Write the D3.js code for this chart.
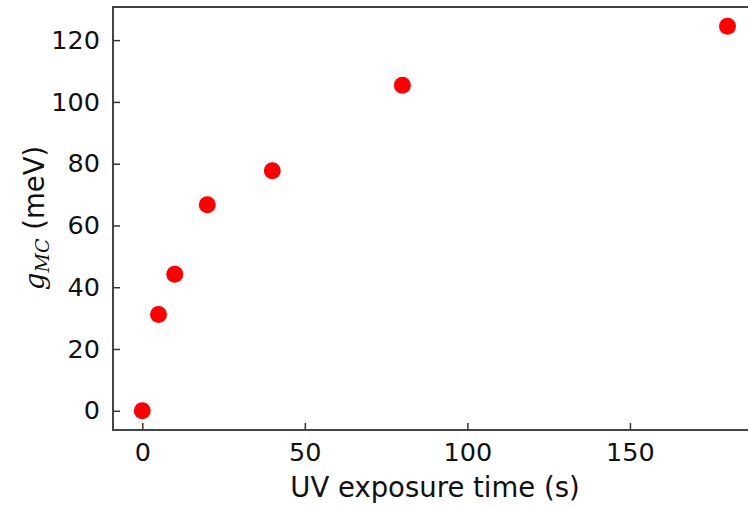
<!DOCTYPE html>
<html><head><meta charset="utf-8">
<script src="https://cdn.jsdelivr.net/npm/d3@7"></script>
<style>body{margin:0;background:#fff}svg{display:block}</style>
</head><body><svg id="c" width="748" height="508"></svg>
<script>
const times = [0, 5, 10, 20, 40, 80, 180];
const gMC = [0, 31.2, 44.2, 66.7, 77.7, 105.4, 124.5];
const xTicks = [0, 50, 100, 150];
const yTicks = [0, 20, 40, 60, 80, 100, 120];

const svg = d3.select("#c");
const mL = 113, mR = 756.75, mT = 7, mB = 430;
const x = d3.scaleLinear().domain([-9, 189]).range([mL, mR]);
const y = d3.scaleLinear().domain([-6.225, 130.725]).range([mB, mT]);
const font = "DejaVu Sans, sans-serif";

const xAxis = svg.append("g").attr("transform", `translate(0,${mB})`)
  .call(d3.axisBottom(x).tickValues(xTicks).tickSizeInner(-7).tickSizeOuter(0).tickPadding(13));
const yAxis = svg.append("g").attr("transform", `translate(${mL},0)`)
  .call(d3.axisLeft(y).tickValues(yTicks).tickSizeInner(-7).tickSizeOuter(0).tickPadding(13));
[xAxis, yAxis].forEach(a => {
  a.select(".domain").remove();
  a.selectAll("line").attr("stroke", "#333").attr("stroke-width", 1.5);
  a.selectAll("text").attr("font-family", font).attr("font-size", 25.5).attr("fill", "#111");
});
svg.append("rect").attr("x", mL).attr("y", mT).attr("width", mR - mL).attr("height", mB - mT)
  .attr("fill", "none").attr("stroke", "#444").attr("stroke-width", 2);

svg.append("g").selectAll("circle").data(times).join("circle")
  .attr("cx", d => x(d)).attr("cy", (d, i) => y(gMC[i])).attr("r", 8.5).attr("fill", "#ff0000");

svg.append("text").attr("x", 435).attr("y", 497).attr("text-anchor", "middle")
  .attr("font-family", font).attr("font-size", 27.5).attr("fill", "#111").text("UV exposure time (s)");

const yl = svg.append("text").attr("transform", `translate(44,218) rotate(-90)`)
  .attr("text-anchor", "middle").attr("font-family", font).attr("font-size", 27.5).attr("fill", "#111");
yl.append("tspan").attr("font-family", "DejaVu Serif, serif").attr("font-style", "italic").text("g");
yl.append("tspan").attr("font-family", "DejaVu Serif, serif").attr("font-style", "italic").attr("font-size", 19).attr("dy", 5).text("MC");
yl.append("tspan").attr("dy", -5).text(" (meV)");
</script></body></html>
